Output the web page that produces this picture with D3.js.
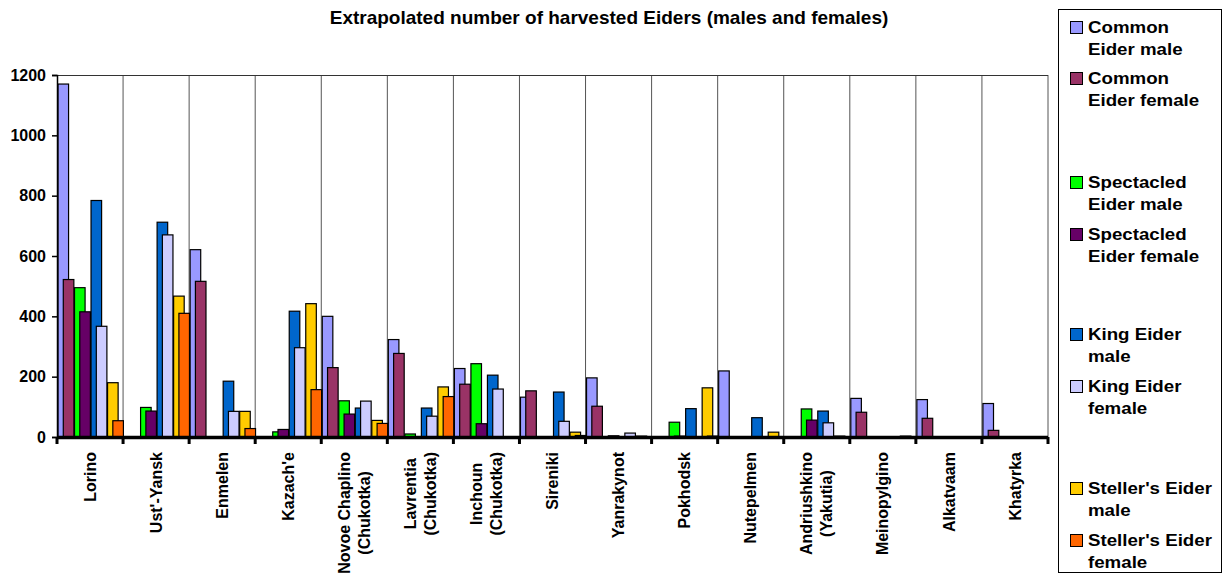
<!DOCTYPE html>
<html>
<head>
<meta charset="utf-8">
<script src="https://cdn.jsdelivr.net/npm/d3@7"></script>
<style>
body{margin:0;background:#fff;}
text{font-family:"Liberation Sans",Arial,sans-serif;font-weight:bold;fill:#000;}
</style>
</head>
<body>
<div id="chart"></div>
<script>
// villages
var categories=["Lorino","Ust'-Yansk","Enmelen","Kazach'e","Novoe Chaplino\n(Chukotka)","Lavrentia\n(Chukotka)","Inchoun\n(Chukotka)","Sireniki","Yanrakynot","Pokhodsk","Nutepelmen","Andriushkino\n(Yakutia)","Meinopylgino","Alkatvaam","Khatyrka"];

var commonMale=[1170,0,621,0,400,323,227,132,196,0,219,0,128,124,111];
var commonFemale=[522,0,516,0,230,277,175,153,102,0,0,0,82,62,22];
var spectMale=[495,98,0,17,120,10,243,0,0,49,0,93,0,0,0];
var spectFemale=[415,86,0,25,76,0,44,0,4,3,0,56,0,0,0];
var kingMale=[784,712,185,417,96,96,205,149,0,94,64,86,0,0,0];
var kingFemale=[367,670,85,296,119,69,159,52,13,0,0,47,0,0,0];
var stellerMale=[180,467,85,442,55,166,0,16,3,163,16,3,3,0,0];
var stellerFemale=[54,410,28,157,45,134,0,5,0,3,0,0,0,0,0];

var yTicks=[0,200,400,600,800,1000,1200];
var species=["Common","Spectacled","King","Steller's"];

var series=[
 {name:["Common","Eider male"],sp:0,sex:0,color:"#9999FF",values:commonMale},
 {name:["Common","Eider female"],sp:0,sex:1,color:"#993366",values:commonFemale},
 {name:["Spectacled","Eider male"],sp:1,sex:0,color:"#00FF00",values:spectMale},
 {name:["Spectacled","Eider female"],sp:1,sex:1,color:"#660066",values:spectFemale},
 {name:["King Eider","male"],sp:2,sex:0,color:"#0066CC",values:kingMale},
 {name:["King Eider","female"],sp:2,sex:1,color:"#CCCCFF",values:kingFemale},
 {name:["Steller's Eider","male"],sp:3,sex:0,color:"#FFCC00",values:stellerMale},
 {name:["Steller's Eider","female"],sp:3,sex:1,color:"#FF6600",values:stellerFemale}
];

var width=1225,height=576;
var plot={left:57,right:1048,top:75,bottom:437};

var svg=d3.select("#chart").append("svg").attr("width",width).attr("height",height);
svg.append("rect").attr("width",width).attr("height",height).attr("fill","#fff");

var x=d3.scaleBand().domain(categories).range([plot.left,plot.right]).padding(0);
var xs=d3.scaleBand().domain(species).range([0,x.bandwidth()]).padding(0);
var y=d3.scaleLinear().domain([0,1200]).range([plot.bottom,plot.top]);

var barW=x.bandwidth()*0.16;
var femaleShift=x.bandwidth()*0.08;

// title
svg.append("text").attr("x",609).attr("y",24).attr("text-anchor","middle")
.style("font-size","19px")
.text("Extrapolated number of harvested Eiders (males and females)");

// vertical grid at category edges
var edges=categories.map(c=>x(c)).concat([plot.right]);
svg.append("g").selectAll("line").data(edges.slice(1)).enter().append("line")
.attr("x1",d=>d).attr("x2",d=>d).attr("y1",plot.top).attr("y2",plot.bottom)
.attr("stroke","#555").attr("stroke-width",1);
svg.append("line").attr("x1",plot.left).attr("x2",plot.right).attr("y1",plot.top+0.5).attr("y2",plot.top+0.5)
.attr("stroke","#333").attr("stroke-width",1);

// bars
series.forEach(function(s){
  var pts=s.values.map((v,i)=>({cat:categories[i],v:v})).filter(d=>d.v>0);
  svg.append("g").selectAll("rect").data(pts).enter().append("rect")
  .attr("x",d=>x(d.cat)+xs(species[s.sp])+1+s.sex*femaleShift)
  .attr("y",d=>y(d.v))
  .attr("width",barW)
  .attr("height",d=>y(0)-y(d.v))
  .attr("fill",s.color).attr("stroke","#000").attr("stroke-width",1.2);
});

// y axis
var yAxis=d3.axisLeft(y).tickValues(yTicks).tickSize(5).tickPadding(6).tickFormat(d3.format("d"));
var gy=svg.append("g").attr("transform","translate("+plot.left+",0)").call(yAxis);
gy.select(".domain").attr("stroke","#000").attr("stroke-width",1.5);
gy.selectAll(".tick line").attr("stroke","#000").attr("stroke-width",1.5);
gy.selectAll("text").style("font-size","16px").style("font-family","Liberation Sans, Arial, sans-serif").style("font-weight","bold").attr("fill","#000");

// x axis line + ticks
svg.append("line").attr("x1",plot.left).attr("x2",plot.right).attr("y1",plot.bottom+0.5).attr("y2",plot.bottom+0.5)
.attr("stroke","#000").attr("stroke-width",3.5);
svg.append("g").selectAll("line").data(edges).enter().append("line")
.attr("x1",d=>d).attr("x2",d=>d).attr("y1",plot.bottom).attr("y2",plot.bottom+7)
.attr("stroke","#000").attr("stroke-width",3);

// x labels, rotated
var lab=svg.append("g").selectAll("g").data(categories).enter().append("g")
.attr("transform",d=>"translate("+(x(d)+x.bandwidth()/2)+","+(plot.bottom+15)+") rotate(-90)");
lab.each(function(d){
  var g=d3.select(this);
  var lines=d.split("\n");
  var n=lines.length;
  var ts=lines.map(function(l,k){
    return g.append("text").style("font-size","16px").attr("text-anchor","middle")
    .attr("dy","0.35em").attr("y",(k-(n-1)/2)*20).text(l);
  });
  var maxL=d3.max(ts,t=>t.node().getComputedTextLength());
  ts.forEach(t=>t.attr("x",-maxL/2));
});

// legend
var lg=svg.append("g");
lg.append("rect").attr("x",1058.5).attr("y",9.5).attr("width",163).attr("height",563)
.attr("fill","#fff").attr("stroke","#000");
var legY=[33,84,188,240,340,392,494,546];
series.forEach(function(s,i){
  lg.append("rect").attr("x",1070.5).attr("y",legY[i]-11.5).attr("width",12).attr("height",12)
  .attr("fill",s.color).attr("stroke","#000");
  s.name.forEach(function(t,k){
    lg.append("text").attr("transform","translate(1088,"+(legY[i]+k*22)+") scale(1.1,1)")
    .style("font-size","17px").text(t);
  });
});
</script>
</body>
</html>
